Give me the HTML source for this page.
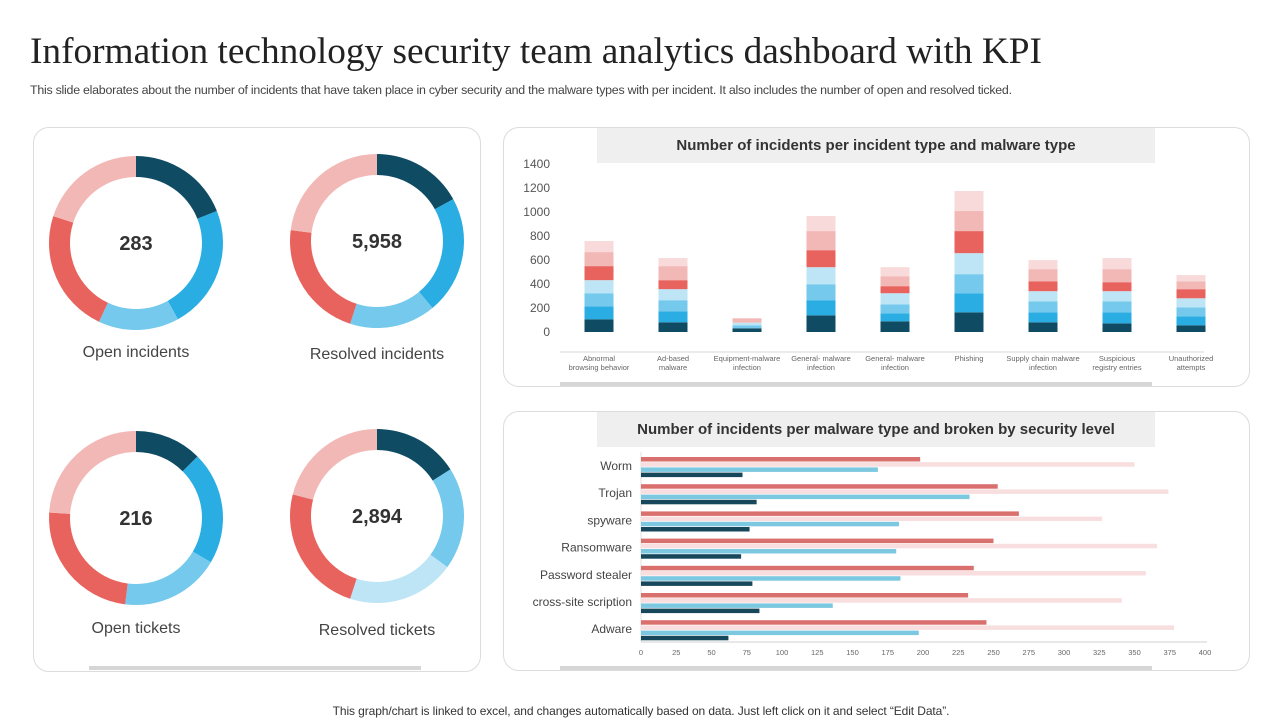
<!DOCTYPE html>
<html><head><meta charset="utf-8">
<style>
body{margin:0;width:1280px;height:720px;background:#fff;overflow:hidden;font-family:"Liberation Sans",sans-serif;position:relative}
.abs{position:absolute}
.panel{position:absolute;border:1px solid #dcdcdc;border-radius:16px;background:#fff}
.tbox{position:absolute;background:#efefef;font-weight:bold;font-size:15px;color:#333;text-align:center;line-height:35px}
</style></head><body>
<div class="abs" style="left:30px;top:30px;font-family:'Liberation Serif',serif;font-size:37.3px;color:#222;white-space:nowrap">Information technology security team analytics dashboard with KPI</div>
<div class="abs" style="left:30px;top:83px;font-size:12.4px;color:#444;white-space:nowrap;letter-spacing:-0.25px">This slide elaborates about the number of incidents that have taken place in cyber security and the malware types with per incident. It also includes the number of open and resolved ticked.</div>
<div class="panel" style="left:33px;top:127px;width:446px;height:543px"></div>
<div class="panel" style="left:503px;top:127px;width:745px;height:258px"></div>
<div class="panel" style="left:503px;top:411px;width:745px;height:258px"></div>
<div class="tbox" style="left:597px;top:128px;width:558px;height:35px">Number of incidents per incident type and malware type</div>
<div class="tbox" style="left:597px;top:412px;width:558px;height:35px">Number of incidents per malware type and broken by security level</div>
<div class="abs" style="left:89px;top:666px;width:332px;height:4px;background:#d6d6d6"></div>
<div class="abs" style="left:560px;top:382px;width:592px;height:4px;background:#d6d6d6"></div>
<div class="abs" style="left:560px;top:666px;width:592px;height:4px;background:#d6d6d6"></div>
<div class="abs" style="left:0;width:1282px;top:704px;text-align:center;font-size:12px;color:#333;letter-spacing:-0.1px">This graph/chart is linked to excel, and changes automatically based on data. Just left click on it and select “Edit Data”.</div>
<svg class="abs" style="left:0;top:0" width="1280" height="720" id="svg"></svg>
<script>
const NS='http://www.w3.org/2000/svg';
const svg=document.getElementById('svg');
function mk(t,a,p){const e=document.createElementNS(NS,t);for(const k in a)e.setAttribute(k,a[k]);(p||svg).appendChild(e);return e;}

// Donuts
const donutLabels=['Open incidents','Resolved incidents','Open tickets','Resolved tickets'];
const donutValues=['283','5,958','216','2,894'];
const donutShares=[[19,23,15,23,20],[17,22,16,22,23],[12.5,21,18.5,24,24],[16,19,20,24,21]];
const donutColors=[['#0f4c63','#29ade3','#74c9ec','#e8635e','#f2b8b6'],['#0f4c63','#29ade3','#74c9ec','#e8635e','#f2b8b6'],['#0f4c63','#29ade3','#74c9ec','#e8635e','#f2b8b6'],['#0f4c63','#74c9ec','#bde5f5','#e8635e','#f2b8b6']];
const centers=[[136,243],[377,241],[136,518],[377,516]];
const labelY=[357,359,633,635];
donutShares.forEach((sh,i)=>{
  const [cx,cy]=centers[i];const R=87,r=66;
  const tot=sh.reduce((a,b)=>a+b,0);let acc=0;
  sh.forEach((v,j)=>{
    const a0=acc/tot*2*Math.PI;acc+=v;const a1=acc/tot*2*Math.PI;
    const p=(a,rr)=>[cx+rr*Math.sin(a),cy-rr*Math.cos(a)];
    const [x0,y0]=p(a0,R),[x1,y1]=p(a1,R),[x2,y2]=p(a1,r),[x3,y3]=p(a0,r);
    const lg=(a1-a0)>Math.PI?1:0;
    const e=mk('path',{d:`M${x0},${y0}A${R},${R} 0 ${lg} 1 ${x1},${y1}L${x2},${y2}A${r},${r} 0 ${lg} 0 ${x3},${y3}Z`,fill:donutColors[i][j]});
    
    
  });
  const t=mk('text',{x:cx,y:cy+7,'text-anchor':'middle','font-size':20,'font-weight':'bold',fill:'#333'});t.textContent=donutValues[i];
  
  
  const l=mk('text',{x:cx,y:labelY[i],'text-anchor':'middle','font-size':16,fill:'#444'});l.textContent=donutLabels[i];
  
  
});

// Stacked bar chart
const stackCats=[['Abnormal','browsing behavior'],['Ad-based','malware'],['Equipment-malware','infection'],['General- malware','infection'],['General- malware','infection'],['Phishing',''],['Supply chain malware','infection'],['Suspicious','registry entries'],['Unauthorized','attempts']];
const s1=[106,81,31,139,89,164,81,72,56];
const s2=[108,92,0,126,67,159,83,92,75];
const s3=[109,92,25,133,75,159,92,92,75];
const s4=[109,92,22,142,92,175,84,84,75];
const s5=[117,75,0,142,59,184,83,75,76];
const s6=[117,117,36,159,83,167,101,109,66];
const s7=[92,67,0,126,75,167,75,92,51];
const stackTicks=[0,200,400,600,800,1000,1200,1400];
const stackSeries=[s1,s2,s3,s4,s5,s6,s7];
const stackColors=['#0f4c63','#29ade3','#74c9ec','#bde5f5','#e8635e','#f2b8b6','#f8dada'];
const yS=v=>332-v*0.12;
const xS=i=>562+i*74+37;
stackTicks.forEach(t=>{const e=mk('text',{x:550,y:yS(t)+4,'text-anchor':'end','font-size':12,fill:'#555'});e.textContent=t;
  
  });
mk('line',{x1:560,x2:1204,y1:352,y2:352,stroke:'#d9d9d9'});
stackCats.forEach((c,i)=>{
  let acc=0;
  stackSeries.forEach((s,j)=>{
    const v=s[i];if(!v)return;
    const e=mk('rect',{x:xS(i)-14.5,y:yS(acc+v),width:29,height:v*0.12,fill:stackColors[j]});
    
    
    acc+=v;
  });
  c.forEach((ln,k)=>{if(!ln)return;const t=mk('text',{x:xS(i),y:361+k*9,'text-anchor':'middle','font-size':7.5,fill:'#666'});t.textContent=ln;
    
    });
});

// Horizontal bar chart
const hCats=['Worm','Trojan','spyware','Ransomware','Password stealer','cross-site scription','Adware'];
const hRed=[198,253,268,250,236,232,245];
const hPink=[350,374,327,366,358,341,378];
const hBlue=[168,233,183,181,184,136,197];
const hNavy=[72,82,77,71,79,84,62];
const hTicks=[0,25,50,75,100,125,150,175,200,225,250,275,300,325,350,375,400];
const hSeries=[hRed,hPink,hBlue,hNavy];
const hColors=['#d9706e','#f8dede','#7cc8e0','#17475a'];
const xH=v=>641+v*1.41;
const rowY=i=>466+i*27.2;
mk('line',{x1:641,x2:641,y1:452,y2:642,stroke:'#e0e0e0'});
mk('line',{x1:641,x2:1207,y1:642,y2:642,stroke:'#d0d0d0'});
hTicks.forEach(t=>{const e=mk('text',{x:xH(t),y:655,'text-anchor':'middle','font-size':7.5,fill:'#666'});e.textContent=t;
  
  });
hCats.forEach((c,i)=>{
  const t=mk('text',{x:632,y:rowY(i)+4,'text-anchor':'end','font-size':12,fill:'#444'});t.textContent=c;
  
  
  hSeries.forEach((s,j)=>{
    const e=mk('rect',{x:641,y:rowY(i)-9+j*5.2,width:s[i]*1.41,height:4.5,fill:hColors[j]});
    
    
  });
});
</script>
</body></html>
